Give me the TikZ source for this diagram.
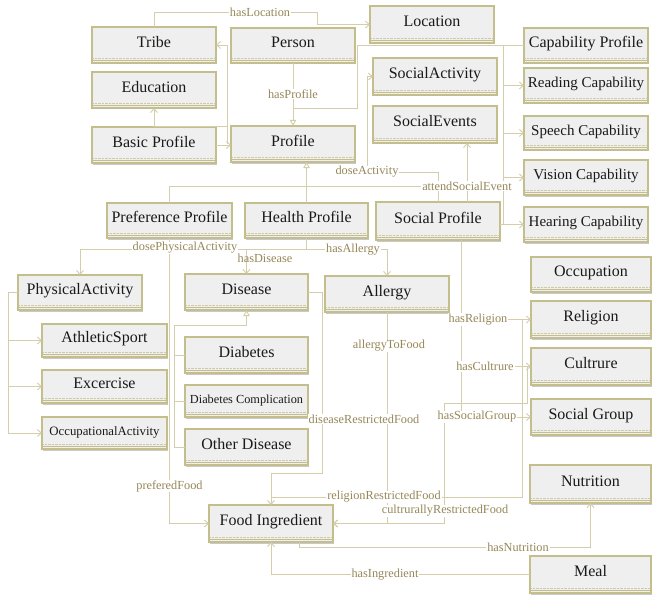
\documentclass[tikz,border=0pt]{standalone}
\usepackage{fontspec}
\setmainfont{Liberation Serif}
\usetikzlibrary{arrows.meta,shadows}
\definecolor{boxfill}{RGB}{239,239,239}
\definecolor{boxline}{RGB}{196,189,140}
\definecolor{edgecol}{RGB}{212,206,170}
\definecolor{lblcol}{RGB}{150,135,88}
\definecolor{txtcol}{RGB}{25,25,25}
\tikzset{
 clsbox/.style={draw=boxline, fill=boxfill, line width=1.1pt, inner sep=0pt, outer sep=0pt,
   drop shadow={shadow xshift=1.2pt, shadow yshift=-1.5pt, fill=black!35, opacity=0.6},
   path picture={
     \draw[boxline!80, line width=0.4pt, densely dotted] ([yshift=4.8pt]path picture bounding box.south west) -- ([yshift=4.8pt]path picture bounding box.south east);
     \draw[boxline, line width=0.7pt] ([yshift=2.6pt]path picture bounding box.south west) -- ([yshift=2.6pt]path picture bounding box.south east);}},
 clstext/.style={text=txtcol, inner sep=0pt, text height=0.68em, text depth=0.2em},
 conn/.style={draw=edgecol, line width=0.9pt},
 plain/.style={conn},
 assoc/.style={conn, -{Straight Barb[length=4pt,width=7pt]}},
 gen/.style={conn, -{Triangle[open,length=6pt,width=6.5pt]}},
 lbl/.style={text=lblcol, fill=white, inner sep=0.8pt, font=\fontsize{12.3}{13}\selectfont},
}
\newcommand\classbox[7]{%
 \node[clsbox, minimum width={(#4-#2)*1pt}, minimum height={(#5-#3)*1pt}] (#1) at ({(#2+#4)/2},{(#3+#5)/2}) {};
 \node[clstext, font=\fontsize{#6}{#6}\selectfont] (#1-t) at ({(#2+#4)/2},{(#3+#5)/2}) {#7};
}
\begin{document}
\begin{tikzpicture}[x=1pt,y=-1pt]
\useasboundingbox[fill=white] (0,0) rectangle (652,596);
% boxes
\classbox{tribe}{92}{27}{216}{63}{16}{Tribe}
\classbox{person}{231}{28}{355}{63}{16}{Person}
\classbox{location}{370}{6}{494}{43}{16}{Location}
\classbox{capprof}{524}{28}{648}{63}{16}{Capability Profile}
\classbox{education}{92}{72}{216}{108}{16}{Education}
\classbox{socact}{373}{58}{497}{95}{16}{SocialActivity}
\classbox{reading}{524}{68}{648}{103}{15}{Reading Capability}
\classbox{basic}{92}{127}{216}{163}{16}{Basic Profile}
\classbox{profile}{231}{126}{355}{162}{16}{Profile}
\classbox{socev}{373}{106}{497}{143}{16}{SocialEvents}
\classbox{speech}{524}{116}{648}{150}{15}{Speech Capability}
\classbox{vision}{524}{160}{648}{195}{15}{Vision Capability}
\classbox{pref}{107}{203}{232}{238}{16}{Preference Profile}
\classbox{health}{245}{203}{368}{238}{16}{Health Profile}
\classbox{social}{376}{202}{500}{240}{16}{Social Profile}
\classbox{hearing}{524}{207}{648}{242}{15}{Hearing Capability}
\classbox{occupation}{531}{257}{651}{292}{16}{Occupation}
\classbox{physact}{18}{275}{142}{310}{16}{PhysicalActivity}
\classbox{disease}{185}{274}{308}{310}{16}{Disease}
\classbox{allergy}{325}{276}{449}{312}{16}{Allergy}
\classbox{religion}{531}{301}{651}{338}{16}{Religion}
\classbox{athletic}{42}{324}{167}{357}{16}{AthleticSport}
\classbox{diabetes}{185}{337}{308}{373}{16}{Diabetes}
\classbox{cultrure}{531}{348}{651}{385}{16}{Cultrure}
\classbox{excercise}{42}{370}{167}{403}{16}{Excercise}
\classbox{diabcomp}{185}{385}{308}{417}{12.3}{Diabetes Complication}
\classbox{socgroup}{531}{399}{651}{435}{16}{Social Group}
\classbox{occact}{42}{417}{167}{449}{12.8}{OccupationalActivity}
\classbox{other}{185}{429}{308}{465}{16}{Other Disease}
\classbox{nutrition}{530}{465}{651}{503}{16}{Nutrition}
\classbox{food}{209}{505}{333}{542}{16}{Food Ingredient}
\classbox{meal}{530}{556}{651}{593}{16}{Meal}
% junction coordinates
\coordinate (jtp) at (227,45);
\coordinate (jbp) at (227,144);
\coordinate (jed) at (227,126);
\coordinate (jcap) at (357,108);
\coordinate (jbus) at (503,45.5);
\coordinate (jhp) at (306.5,249);
\coordinate (jpa) at (8,292.5);
\coordinate (jdis) at (174,325);
\coordinate (jsoc) at (461,417);
% connectors
\draw[assoc] (tribe.north) |- (317,12) |- (location.west);
\draw[assoc] (basic.east) -- (profile.west |- basic.east);
\draw[plain] (jbp) -- (jtp);
\draw[assoc] (jtp) -- (tribe.east);
\draw[assoc] (jed) -| (education.south);
\draw[gen] (person.south) -- (profile.north);
\draw[plain] (capprof.west) -| (jcap) -- (293,108);
\draw[plain] (jbus) -- (503,224.5);
\draw[assoc] (503,85.5) -- (reading.west);
\draw[assoc] (503,133) -- (speech.west);
\draw[assoc] (503,177.5) -- (vision.west);
\draw[assoc] (social.east |- hearing.west) -- (hearing.west);
\draw[gen] (health.north) -- (profile.south -| health.north);
\draw[plain] (pref.north) |- (503,186);
\draw[assoc] (social.north) |- (367,172) |- (socact.west);
\draw[assoc] ([xshift=29pt]social.north) -- ([xshift=32pt]socev.south);
\draw[assoc] (health.south) -- (jhp) -| (physact.north);
\draw[assoc] (jhp) -| (allergy.north);
\draw[assoc] (disease.north |- jhp) -- (disease.north);
\draw[plain] (physact.west) -- (jpa) -- (8,433);
\draw[assoc] (8,340.5) -- (athletic.west);
\draw[assoc] (8,386.5) -- (excercise.west);
\draw[assoc] (8,433) -- (occact.west);
\draw[assoc] (pref.south) |- (food.west);
\draw[gen] (174,447) -- (jdis) -| (disease.south);
\draw[plain] (174,355) -- (diabetes.west);
\draw[plain] (174,401) -- (diabcomp.west);
\draw[plain] (174,447) -- (other.west);
\draw[assoc] (disease.east) -| (322,473) -| (food.north);
\draw[assoc] (allergy.south) |- (food.east);
\draw[plain] (522,319.5) -- (522,497) -- (271,497);
\draw[plain] ([xshift=23pt]social.south) -- (jsoc);
\draw[assoc] (461,319.5) -- (religion.west);
\draw[assoc] (461,366.5) -- (cultrure.west);
\draw[assoc] (jsoc) -- (socgroup.west);
\draw[assoc] (527,366.5) -- (527,403) -- (444,403) |- (food.east);
\draw[assoc] ([xshift=28pt]food.south) -- ++(0,5) -| (nutrition.south);
\draw[assoc] (meal.west) -| (food.south);
% labels
\node[lbl] (l1) at (260,12) {hasLocation};
\node[lbl] (l2) at (293,94) {hasProfile};
\node[lbl] (l3) at (367,172) {doseActivity};
\node[lbl] (l4) at (467,186) {attendSocialEvent};
\node[lbl] (l5) at (185,248) {dosePhysicalActivity};
\node[lbl, fill=none] (l6) at (265,258) {hasDisease};
\node[lbl] (l7) at (353,250) {hasAllergy};
\node[lbl] (l8) at (478,319.5) {hasReligion};
\node[lbl] (l9) at (485,366.5) {hasCultrure};
\node[lbl] (l10) at (477,417) {hasSocialGroup};
\node[lbl] (l11) at (389,346) {allergyToFood};
\node[lbl] (l12) at (364,419) {diseaseRestrictedFood};
\node[lbl] (l13) at (169.5,486) {preferedFood};
\node[lbl] (l14) at (384,497) {religionRestrictedFood};
\node[lbl] (l15) at (445,511) {cultrurallyRestrictedFood};
\node[lbl] (l16) at (518,547) {hasNutrition};
\node[lbl] (l17) at (385,574.5) {hasIngredient};
\end{tikzpicture}
\end{document}
